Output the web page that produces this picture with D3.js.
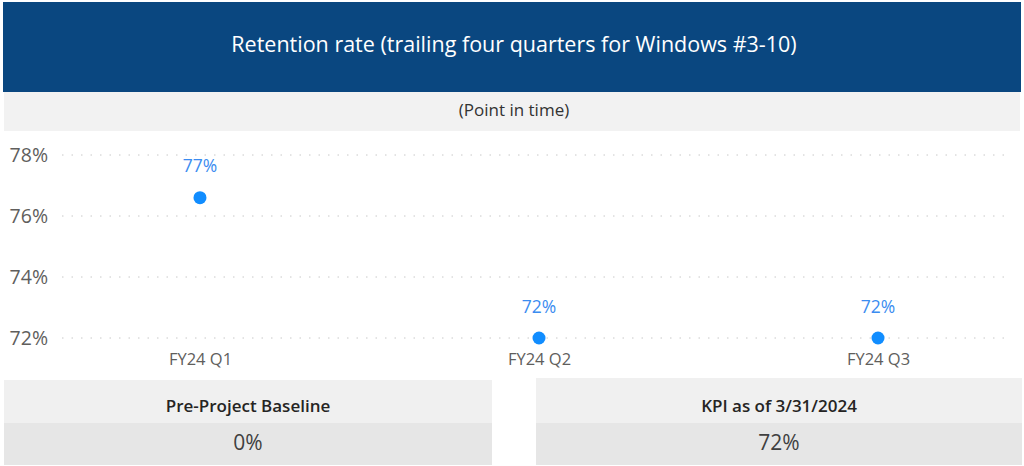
<!DOCTYPE html>
<html>
<head>
<meta charset="utf-8">
<script src="https://cdn.jsdelivr.net/npm/d3@7"></script>
<style>
  html, body { margin: 0; padding: 0; background: #ffffff; }
  svg { display: block; }
  text { font-family: "Open Sans", "Noto Sans", sans-serif; }
</style>
</head>
<body>
<svg id="chart" width="1024" height="466"></svg>
<script>
// Retention rate by quarter
const quarters = ["FY24 Q1", "FY24 Q2", "FY24 Q3"];
const retention = [76.6, 72.0, 72.0];
const dataLabels = ["77%", "72%", "72%"];
const yTicks = [72, 74, 76, 78];

// KPI cards
const cardTitles = ["Pre-Project Baseline", "KPI as of 3/31/2024"];
const cardValues = ["0%", "72%"];

const svg = d3.select("#chart");
const font = "'Open Sans', 'Noto Sans', sans-serif";

// Header bar
svg.append("rect").attr("x", 3).attr("y", 2).attr("width", 1018).attr("height", 90).attr("fill", "#0a4780");
svg.append("text").attr("x", 514).attr("y", 46).attr("text-anchor", "middle").attr("dominant-baseline", "middle")
  .attr("fill", "#ffffff").style("font-size", "21.5px")
  .text("Retention rate (trailing four quarters for Windows #3-10)");

// Sub header
svg.append("rect").attr("x", 4).attr("y", 92).attr("width", 1016).attr("height", 39).attr("fill", "#f2f2f2");
svg.append("text").attr("x", 514).attr("y", 111).attr("text-anchor", "middle").attr("dominant-baseline", "middle")
  .attr("fill", "#333333").style("font-size", "17px").text("(Point in time)");

// Scales
const x = d3.scalePoint().domain(quarters).range([62, 1016]).padding(0.407);
const y = d3.scaleLinear().domain([72, 78]).range([338, 155]);

// Gridlines
svg.append("g").selectAll("line").data(yTicks).join("line")
  .attr("x1", 62).attr("x2", 1012)
  .attr("y1", d => y(d)).attr("y2", d => y(d))
  .attr("stroke", "#c8c8c8").attr("stroke-width", 1).attr("stroke-dasharray", "1.5,8");

// Y axis
const yAxis = d3.axisLeft(y).tickValues(yTicks).tickFormat(d => d + "%").tickSize(0).tickPadding(0);
const gy = svg.append("g").attr("transform", "translate(48,0)").call(yAxis);
gy.select(".domain").remove();
gy.selectAll("text").attr("fill", "#605e5c").style("font-size", "19.5px").style("font-family", font);

// X axis
const xAxis = d3.axisBottom(x).tickSize(0).tickPadding(0);
const gx = svg.append("g").attr("transform", "translate(0,353)").call(xAxis);
gx.select(".domain").remove();
gx.selectAll("text").attr("fill", "#605e5c").style("font-size", "16.5px").style("font-family", font);

// Points
const pts = quarters.map((q, i) => ({ q, v: retention[i], label: dataLabels[i] }));
svg.append("g").selectAll("circle").data(pts).join("circle")
  .attr("cx", d => x(d.q)).attr("cy", d => y(d.v)).attr("r", 6.5).attr("fill", "#118dff");

svg.append("g").selectAll("text").data(pts).join("text")
  .attr("x", d => x(d.q)).attr("y", d => y(d.v) - 30)
  .attr("text-anchor", "middle").attr("dominant-baseline", "middle")
  .attr("fill", "#3b8cf0").style("font-size", "17.5px").text(d => d.label);

// Cards
const cards = [
  { x: 4, w: 488, top: 380 },
  { x: 536, w: 486, top: 378 }
];
cards.forEach((c, i) => {
  svg.append("rect").attr("x", c.x).attr("y", c.top).attr("width", c.w).attr("height", 423 - c.top).attr("fill", "#f0f0f0");
  svg.append("rect").attr("x", c.x).attr("y", 423).attr("width", c.w).attr("height", 42).attr("fill", "#e6e6e6");
  svg.append("text").attr("x", c.x + c.w / 2).attr("y", 407).attr("text-anchor", "middle").attr("dominant-baseline", "middle")
    .attr("fill", "#252423").style("font-size", "17px").style("font-weight", "600").text(cardTitles[i]);
  svg.append("text").attr("x", c.x + c.w / 2).attr("y", 444).attr("text-anchor", "middle").attr("dominant-baseline", "middle")
    .attr("fill", "#404040").style("font-size", "21px").text(cardValues[i]);
});
</script>
</body>
</html>
